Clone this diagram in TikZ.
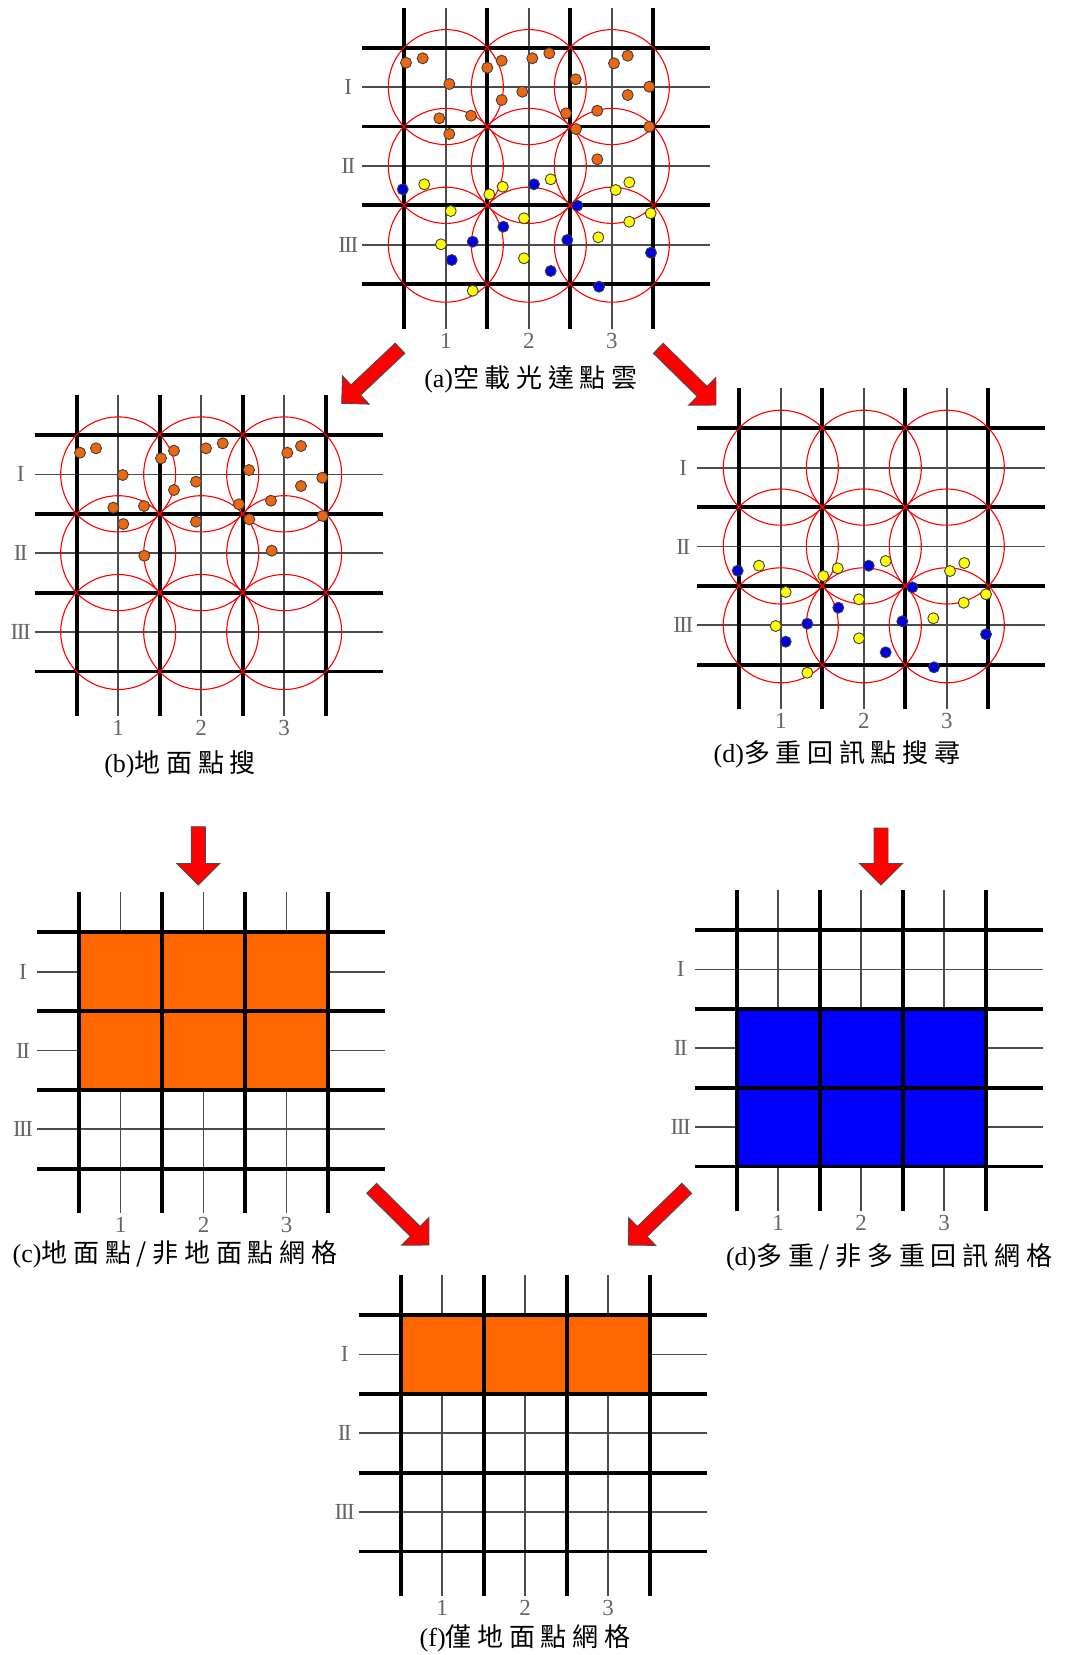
\documentclass[tikz,border=0pt]{standalone}
\usepackage{fontspec}
\setmainfont{Liberation Serif}
\newfontfamily\cjk[LetterSpace=22]{Noto Sans CJK TC}
\usetikzlibrary{calc}
\definecolor{gridorange}{RGB}{255,102,0}
\definecolor{gridblue}{RGB}{0,0,255}
\definecolor{dotorange}{RGB}{236,104,16}
\definecolor{dotyellow}{RGB}{255,255,0}
\definecolor{dotblue}{RGB}{0,0,225}
\definecolor{arrowred}{RGB}{255,0,0}
\tikzset{
  thinln/.style={line width=1.7pt, draw=black!70},
  thickln/.style={line width=3.8pt, draw=black},
  ring/.style={line width=1.1pt, draw=arrowred},
  odot/.style={fill=dotorange, draw=black!75, line width=0.9pt},
  ydot/.style={fill=dotyellow, draw=black!75, line width=0.9pt},
  bdot/.style={fill=dotblue, draw=black!75, line width=0.9pt},
  lbl/.style={text=black!60, font=\fontsize{23}{26}\selectfont, inner sep=0pt},
  captext/.style={text=black, font=\fontsize{26}{30}\selectfont, inner sep=0pt},
  arrowst/.style={fill=arrowred, draw=black!70, line width=0.9pt, line join=miter},
}
\newcommand{\gridthin}[2]{%
  \foreach \i in {0,1,2}{
    \draw[thinln] ({#1+41.5+83*\i},{#2-40}) -- ({#1+41.5+83*\i},{#2+281});
    \draw[thinln] ({#1-42},{#2+39.4+78.8*\i}) -- ({#1+306},{#2+39.4+78.8*\i});
  }}
\newcommand{\gridthick}[2]{%
  \foreach \i in {0,1,2,3}{
    \draw[thickln] ({#1+83*\i},{#2-40}) -- ({#1+83*\i},{#2+281});
    \draw[thickln] ({#1-42},{#2+78.8*\i}) -- ({#1+306},{#2+78.8*\i});
  }}
\newcommand{\gridrings}[2]{%
  \foreach \i in {0,1,2}{\foreach \j in {0,1,2}{
    \draw[ring] ({#1+41.5+83*\i},{#2+39.4+78.8*\j}) circle[radius=57.5pt];
  }}}
\newcommand{\gridlabels}[3]{%
  \node[lbl] (#3r1) at ({#1-56},{#2+39.4}) {I};
  \node[lbl] (#3r2) at ({#1-56},{#2+39.4+78.8}) {I\kern-1.5pt I};
  \node[lbl] (#3r3) at ({#1-56},{#2+39.4+157.6}) {I\kern-1.5pt I\kern-1.5pt I};
  \node[lbl] (#3c1) at ({#1+41.5},{#2+293}) {1};
  \node[lbl] (#3c2) at ({#1+124.5},{#2+293}) {2};
  \node[lbl] (#3c3) at ({#1+207.5},{#2+293}) {3};
}
\newcommand{\blockarrow}[3]{%
  \coordinate (#1H) at ($(#2)!#3pt!(#1)$);
  \filldraw[arrowst] (#2)
    -- ($(#1H)!#3pt!90:(#1)$)
    -- ($(#1H)!7pt!90:(#1)$)
    -- ($(#1)!7pt!-90:(#1H)$)
    -- ($(#1)!7pt!90:(#1H)$)
    -- ($(#1H)!7pt!-90:(#1)$)
    -- ($(#1H)!#3pt!-90:(#1)$)
    -- cycle;}
\begin{document}
\begin{tikzpicture}[x=1pt,y=-1pt]
\fill[white] (0,0) rectangle (1065,1655);
\useasboundingbox (0,0) rectangle (1065,1655);

% ---------- panel (a) ----------
\gridthin{404.3}{47.7}
\gridthick{404.3}{47.7}
\gridrings{404.3}{47.7}
\foreach \p in {(406,62.7),(422.7,58.3),(449.3,84),(439.3,118.3),(471,115.7),(449.3,134),(487.3,67.7),(501.7,60.7),(532.3,58.3),(549.3,53.3),(501.7,100),(522.3,91.7),(575.7,79.3),(566,113.3),(576,129),(597.3,110.7),(614,63.3),(627.7,55.7),(649.3,86.7),(627.7,95),(649.3,126.7),(597.3,159.3)}
  \draw[odot] \p circle[radius=5.5pt];
\foreach \p in {(424.3,184.3),(489.3,194.3),(502.7,186.7),(550.7,179.3),(615.7,190),(629.3,182.3),(450.7,211),(524,218.3),(650.7,213.3),(629.3,221.7),(598.3,237.3),(441,244.3),(524,258.3),(472.7,290.7)}
  \draw[ydot] \p circle[radius=5.5pt];
\foreach \p in {(402.7,189.3),(534,184.3),(577.3,205.7),(503.3,226.7),(472.7,241.7),(567.3,240),(451.7,260),(550.7,271),(651,252.7),(599,286.7)}
  \draw[bdot] \p circle[radius=5.5pt];
\gridlabels{404.3}{47.7}{pa}
\node[captext] (capa) at (531,379) {(a)\cjk 空載光達點雲};

% ---------- panel (b) ----------
\gridthin{76.7}{435}
\gridthick{76.7}{435}
\gridrings{76.7}{435}
\foreach \p in {(80,452.7),(96,448.3),(122.7,475),(113.3,507.7),(144,506),(123.3,524),(161,458.3),(174,450.7),(206,448.3),(222.7,443.3),(174,490),(196,481.7),(249,470),(239,504.3),(249.3,519.3),(271,500.7),(287.3,452.7),(301,446),(322.3,477.7),(301,486),(322.7,516),(196,521.7),(144.3,555.7),(271.7,550.7)}
  \draw[odot] \p circle[radius=5.5pt];
\gridlabels{76.7}{435}{pb}
\node[captext] (capb) at (180,764) {(b)\cjk 地面點搜};

% ---------- panel (d) upper ----------
\gridthin{739.3}{428.3}
\gridthick{739.3}{428.3}
\gridrings{739.3}{428.3}
\foreach \p in {(759,565.7),(823.3,576),(837.7,568.3),(885.7,561),(950,571),(964.3,563),(785.7,592),(859,599.3),(986,594.3),(963.7,602.7),(933.3,618.3),(775.7,626),(859,638.3),(807.3,672.7)}
  \draw[ydot] \p circle[radius=5.5pt];
\foreach \p in {(737.7,570.7),(868.7,565.7),(912.3,587.3),(838.3,607.7),(807.3,623.7),(902.3,621.3),(785.7,641.7),(885.7,652.3),(986,634.3),(934,667.3)}
  \draw[bdot] \p circle[radius=5.5pt];
\gridlabels{739.3}{428.3}{pd}
\node[captext] (capd) at (837,754) {(d)\cjk 多重回訊點搜尋};

% ---------- panel (c) ----------
\gridthin{79}{932.3}
\fill[gridorange] (79,932.3) rectangle (328,1089.9);
\gridthick{79}{932.3}
\gridlabels{79}{932.3}{pc}
\node[captext] (capc) at (175,1254) {(c)\cjk 地面點/非地面點網格};

% ---------- panel (d) lower ----------
\gridthin{736.7}{930}
\fill[gridblue] (736.7,1008.8) rectangle (985.7,1166.4);
\gridthick{736.7}{930}
\gridlabels{736.7}{930}{pe}
\node[captext] (cape) at (889,1257) {(d)\cjk 多重/非多重回訊網格};

% ---------- panel (f) ----------
\gridthin{400.7}{1315}
\fill[gridorange] (400.7,1315) rectangle (649.7,1393.8);
\gridthick{400.7}{1315}
\gridlabels{400.7}{1315}{pf}
\node[captext] (capf) at (525,1638) {(f)\cjk 僅地面點網格};

% ---------- arrows ----------
\coordinate (abT) at (400,348.3);   \coordinate (abP) at (341.7,403.3);
\coordinate (adT) at (658.3,348.3); \coordinate (adP) at (716,405);
\coordinate (bcT) at (198.3,826.7); \coordinate (bcP) at (198.3,885);
\coordinate (deT) at (881,828);     \coordinate (deP) at (881,885);
\coordinate (cfT) at (371.7,1188.3); \coordinate (cfP) at (429,1245);
\coordinate (efT) at (686.7,1188.3); \coordinate (efP) at (628.3,1245);
\blockarrow{abT}{abP}{19.4}
\blockarrow{adT}{adP}{19.4}
\blockarrow{bcT}{bcP}{21.5}
\blockarrow{deT}{deP}{21.5}
\blockarrow{cfT}{cfP}{19.4}
\blockarrow{efT}{efP}{19.4}
\end{tikzpicture}
\end{document}
